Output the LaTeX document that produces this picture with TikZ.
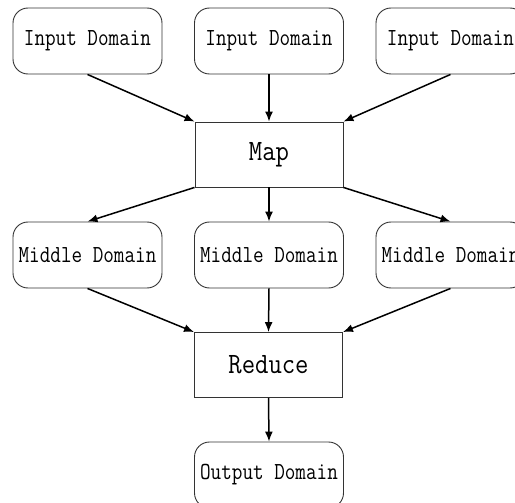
\documentclass[tikz,border=0pt]{standalone}
\usepackage{graphicx}
\usetikzlibrary{arrows.meta}
\newcommand{\smalllbl}[1]{\scalebox{0.84}[1]{#1}}
\newcommand{\biglbl}[1]{\scalebox{0.88}[1]{#1}}
\tikzset{
  domainbox/.style={draw=black!80, line width=0.9pt, rounded corners=15pt, minimum width=149pt, minimum height=66pt, inner sep=0pt, font=\ttfamily\fontsize{24.5}{26}\selectfont},
  procbox/.style={draw=black!80, line width=0.9pt, minimum width=148pt, minimum height=65pt, inner sep=0pt, font=\ttfamily\fontsize{29.5}{31}\selectfont},
  flow/.style={draw=black, line width=1.5pt, -{Latex[length=10pt,width=8pt]}}
}
\begin{document}
\begin{tikzpicture}[x=1pt,y=-1pt]
\useasboundingbox (0,0) rectangle (515,503);
\clip (0,0) rectangle (515,503);
\node[domainbox] (in1) at (87.5,41) {\raisebox{-3pt}{\smalllbl{Input Domain}}};
\node[domainbox] (in2) at (269,41) {\raisebox{-3pt}{\smalllbl{Input Domain}}};
\node[domainbox] (in3) at (450.5,41) {\raisebox{-3pt}{\smalllbl{Input Domain}}};
\node[procbox] (map) at (269,154.5) {\biglbl{Map}};
\node[domainbox] (mid1) at (87.5,255) {\smalllbl{Middle Domain}};
\node[domainbox] (mid2) at (269,255) {\smalllbl{Middle Domain}};
\node[domainbox] (mid3) at (450.5,255) {\smalllbl{Middle Domain}};
\node[procbox] (red) at (268.5,365) {\biglbl{Reduce}};
\node[domainbox] (out) at (269,475) {\smalllbl{Output Domain}};
\draw[flow] (in1.south) -- (map.north west);
\draw[flow] (in2.south) -- (map.north);
\draw[flow] (in3.south) -- (map.north east);
\draw[flow] (map.south west) -- (mid1.north);
\draw[flow] (map.south) -- (mid2.north);
\draw[flow] (map.south east) -- (mid3.north);
\draw[flow] (mid1.south) -- (red.north west);
\draw[flow] (mid2.south) -- (red.north);
\draw[flow] (mid3.south) -- (red.north east);
\draw[flow] (red.south) -- (out.north);
\end{tikzpicture}
\end{document}
